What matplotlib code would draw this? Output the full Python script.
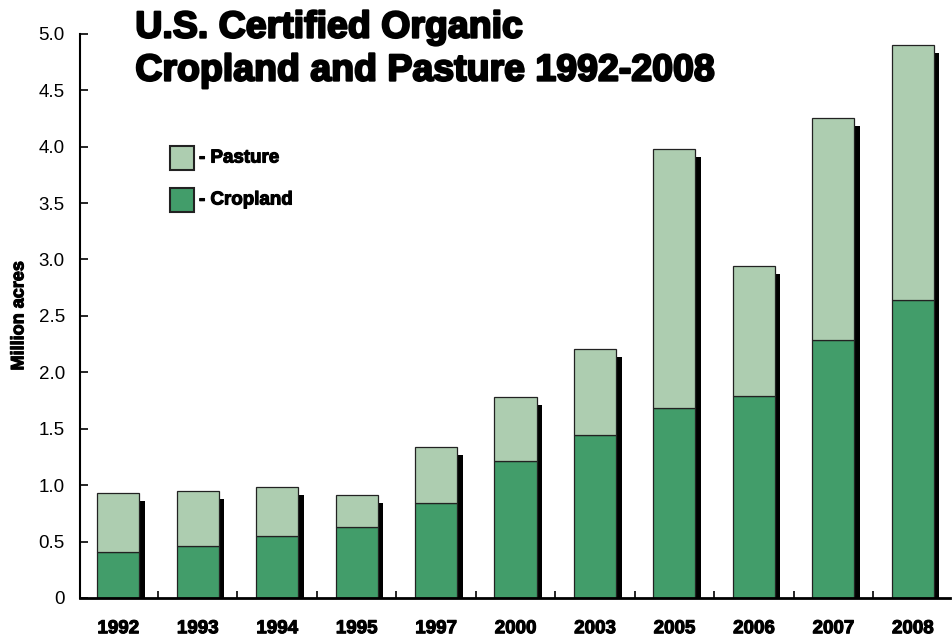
import numpy as np
import matplotlib
matplotlib.use('Agg')
import matplotlib.pyplot as plt
from matplotlib.patches import Rectangle
import matplotlib.patheffects as pe

years = ['1992', '1993', '1994', '1995', '1997', '2000', '2003', '2005', '2006', '2007', '2008']
cropland = [0.41, 0.46, 0.55, 0.63, 0.84, 1.21, 1.445, 1.68, 1.79, 2.29, 2.64]
total = [0.93, 0.95, 0.98, 0.91, 1.34, 1.78, 2.21, 3.98, 2.94, 4.255, 4.90]
pasture = [t - c for t, c in zip(total, cropland)]

crop_color = '#429d6a'
past_color = '#adcdb0'
bold_font = ['Liberation Sans Narrow', 'Liberation Sans', 'DejaVu Sans']
heavy = [pe.withStroke(linewidth=0.8, foreground='black')]
heavy_big = [pe.withStroke(linewidth=1.6, foreground='black')]

plt.rcParams['font.family'] = ['Liberation Sans', 'DejaVu Sans']

fig = plt.figure(figsize=(9.53, 6.38), dpi=100)
ax = fig.add_axes([0.084, 0.0627, 0.913, 0.8843])

x = np.arange(len(years))
w = 0.53
# drop shadows
ax.bar(x + w / 2 + 0.035, np.array(total) - 0.07, width=0.07, color='black', zorder=1)
ax.bar(x, cropland, width=w, color=crop_color, edgecolor='#222222', linewidth=0.9, zorder=2)
ax.bar(x, pasture, width=w, bottom=cropland, color=past_color, edgecolor='#222222', linewidth=0.9, zorder=2)

ax.set_xlim(-0.48, 10.47)
ax.set_ylim(0, 5.0)
ax.set_yticks(np.arange(0, 5.01, 0.5))
ax.set_yticklabels(['0'] + ['%.1f' % v for v in np.arange(0.5, 5.01, 0.5)])
ax.tick_params(axis='y', direction='in', length=6, width=1.2, labelsize=13.5, pad=11)
ax.set_xticks(x)
ax.set_xticklabels(years, fontfamily=bold_font, fontweight='bold', fontsize=13.5)
for t in ax.get_xticklabels():
    t.set_path_effects(heavy)
ax.set_xticks(x[:-1] + 0.5, minor=True)
ax.tick_params(axis='x', which='major', length=0, pad=16)
ax.tick_params(axis='x', which='minor', direction='in', length=5, width=1.2)
for s in ['top', 'right']:
    ax.spines[s].set_visible(False)
ax.spines['left'].set_linewidth(1.5)
ax.spines['bottom'].set_linewidth(2)

ax.set_ylabel('Million acres', fontfamily=bold_font, fontweight='bold', fontsize=13,
              labelpad=8, path_effects=heavy)

fig.text(0.142, 0.985, 'U.S. Certified Organic\nCropland and Pasture 1992-2008',
         fontfamily=bold_font, fontweight='bold', fontsize=27, va='top', ha='left',
         linespacing=1.25, path_effects=heavy_big)

# legend
for i, (lab, col) in enumerate([('Pasture', past_color), ('Cropland', crop_color)]):
    yb = 1 - (170 + 42 * i) / 638
    fig.patches.append(Rectangle((170 / 953, yb), 24 / 953, 24 / 638, transform=fig.transFigure,
                                 facecolor=col, edgecolor='#222222', linewidth=1.5))
    fig.text(199 / 953, yb + 12 / 638, '- ' + lab, fontfamily=bold_font, fontweight='bold',
             fontsize=13.5, va='center', ha='left', path_effects=heavy)

fig.savefig('out.png', dpi=100)
